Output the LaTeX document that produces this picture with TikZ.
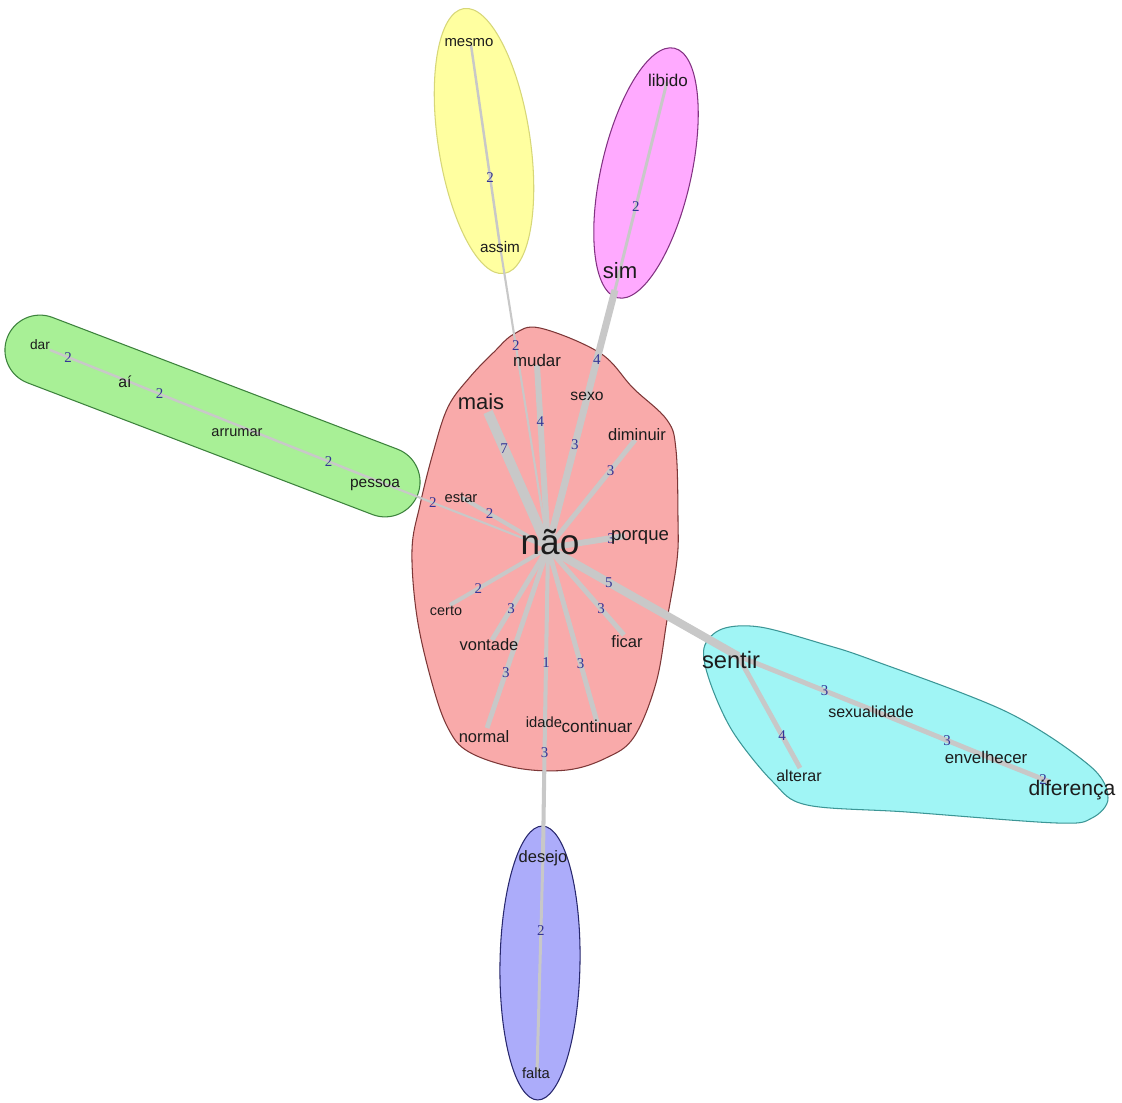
\documentclass[tikz,border=0pt]{standalone}
\usepackage{fontspec}
\setmainfont{Liberation Sans}
\newfontfamily\numfont{Liberation Serif}

% palette
\definecolor{wordcol}{RGB}{28,28,28}
\definecolor{numcol}{RGB}{52,52,150}
\definecolor{edgegray}{RGB}{200,200,200}
\definecolor{redfill}{RGB}{249,170,170}
\definecolor{redline}{RGB}{125,55,55}
\definecolor{yelfill}{RGB}{255,255,160}
\definecolor{yelline}{RGB}{215,215,120}
\definecolor{magfill}{RGB}{255,170,255}
\definecolor{magline}{RGB}{130,50,130}
\definecolor{grnfill}{RGB}{168,240,150}
\definecolor{grnline}{RGB}{60,130,60}
\definecolor{blufill}{RGB}{172,172,250}
\definecolor{bluline}{RGB}{40,40,110}
\definecolor{cyafill}{RGB}{160,245,245}
\definecolor{cyaline}{RGB}{60,150,150}

\tikzset{
  word/.style={font=\fontsize{#1}{#1}\selectfont, text=wordcol, inner sep=0pt, anchor=base},
  link/.style={draw=edgegray, line width=#1},
  wt/.style={font=\numfont\fontsize{8.5}{8.5}\selectfont, text=numcol, inner sep=0pt},
  hull/.style 2 args={fill=#1, draw=#2, line width=0.6pt},
}

\begin{document}
\begin{tikzpicture}[x=0.02cm, y=-0.02cm]
% canvas
\fill[white] (0,0) rectangle (1122,1102);
\useasboundingbox (0,0) rectangle (1122,1102);

% community hulls
\path[hull={redfill}{redline}] plot[smooth cycle, tension=0.6] coordinates {
  (540,328) (600,353) (633,388) (667,420) (676,450) (678,520) (677,560)
  (667,620) (656,683) (634,737) (606,758) (567,770) (517,768) (469,752)
  (448,728) (432,683) (417,617) (412,550) (420,505) (433,453) (448,407)
  (470,377) (494,352) (514,334)};
\path[hull={yelfill}{yelline}, rotate around={8.65:(484,141)}]
  (484,141) ellipse [x radius=0.92cm, y radius=2.68cm];
\path[hull={magfill}{magline}, rotate around={-12.8:(646,173)}]
  (646,173) ellipse [x radius=0.9cm, y radius=2.56cm];
\path[hull={blufill}{bluline}, rotate around={-1:(540,963)}]
  (540,963) ellipse [x radius=0.8cm, y radius=2.74cm];
\path[hull={grnfill}{grnline}, rotate around={-20.9:(212.5,416)}, rounded corners=0.7cm]
  (-7.2,381) rectangle (432.2,451);
\path[hull={cyafill}{cyaline}] plot[smooth cycle, tension=0.55] coordinates {
  (722,629) (760,627) (823,644) (872,660) (1007,712) (1090,766) (1108,798)
  (1092,818) (1057,823) (907,812) (807,805) (773,782) (733,732) (710,682)
  (704,648)};

% vertex positions
\coordinate (v-nao) at (548,548);
\coordinate (v-mais) at (488,412);
\coordinate (v-mudar) at (537,365);
\coordinate (v-sexo) at (587,398);
\coordinate (v-sim) at (615,290);
\coordinate (v-diminuir) at (635,440);
\coordinate (v-porque) at (625,536);
\coordinate (v-estar) at (461,497);
\coordinate (v-pessoa) at (380,482);
\coordinate (v-assim) at (500,246);
\coordinate (v-certo) at (450,605);
\coordinate (v-vontade) at (492,640);
\coordinate (v-normal) at (487,728);
\coordinate (v-idade) at (545,722);
\coordinate (v-continuar) at (597,722);
\coordinate (v-ficar) at (624,635);
\coordinate (v-sentir) at (738,656);
\coordinate (v-sexualidade) at (880,713);
\coordinate (v-envelhecer) at (1000,762);
\coordinate (v-diferenca) at (1050,782);
\coordinate (v-alterar) at (800,768);
\coordinate (v-desejo) at (543,855);
\coordinate (v-falta) at (537,1072);
\coordinate (v-mesmo) at (471,45);
\coordinate (v-libido) at (667,82);
\coordinate (v-dar) at (50,350);
\coordinate (v-ai) at (125,380);
\coordinate (v-arrumar) at (237,425);

% co-occurrence links: from / to / width / label position / weight
\def\links{nao/mais/5.6pt/0.73/7, nao/sim/4pt/0.73/4, nao/sentir/4.6pt/0.32/5,
  nao/mudar/3.4pt/0.69/4, nao/sexo/2.8pt/0.69/3, nao/diminuir/2.8pt/0.72/3,
  nao/porque/3.4pt/0.82/3, nao/estar/2.3pt/0.67/2, nao/pessoa/1.2pt/0.685/2,
  nao/assim/1.2pt/0.672/2, nao/certo/2.3pt/0.71/2, nao/vontade/2.8pt/0.66/3,
  nao/normal/2.8pt/0.69/3, nao/idade/2.3pt/0.66/1, nao/continuar/2.8pt/0.667/3,
  nao/ficar/2.8pt/0.70/3, sentir/sexualidade/2.8pt/0.61/3,
  sexualidade/envelhecer/2.8pt/0.56/3, envelhecer/diferenca/2.8pt/0.86/2,
  sentir/alterar/2.8pt/0.71/4, idade/desejo/2.3pt/0.23/3,
  desejo/falta/1.7pt/0.35/2, mesmo/assim/1.4pt/0.66/2, libido/sim/1.7pt/0.6/2,
  dar/ai/1.4pt/0.24/2, ai/arrumar/1.4pt/0.31/2, arrumar/pessoa/1.4pt/0.64/2}

\foreach \a/\b/\w/\p/\n in \links
  \draw[link=\w] (v-\a) -- (v-\b);
\foreach \a/\b/\w/\p/\n in \links
  \path (v-\a) -- node[wt, pos=\p] {\n} (v-\b);

% words
\node[word=20] (nao) at (550,554) {não};
\node[word=12.5] (mais) at (481,409) {mais};
\node[word=9.6] (mudar) at (537,366) {mudar};
\node[word=8.9] (sexo) at (587,400) {sexo};
\node[word=9.4] (diminuir) at (637,440) {diminuir};
\node[word=10.6] (porque) at (640,540) {porque};
\node[word=8.4] (estar) at (461,502) {estar};
\node[word=8.2] (certo) at (446,615) {certo};
\node[word=9.4] (vontade) at (489,650) {vontade};
\node[word=9.4] (ficar) at (627,647) {ficar};
\node[word=8.4] (idade) at (544,727) {idade};
\node[word=9.8] (continuar) at (597,732) {continuar};
\node[word=9.4] (normal) at (484,742) {normal};
\node[word=13.5] (sentir) at (731,668) {sentir};
\node[word=9.1] (sexualidade) at (871,717) {sexualidade};
\node[word=9.6] (envelhecer) at (986,763) {envelhecer};
\node[word=9.1] (alterar) at (799,781) {alterar};
\node[word=12] (diferenca) at (1072,795) {diferença};
\node[word=7.8] (dar) at (40,349) {dar};
\node[word=9] (ai) at (125,387) {aí};
\node[word=8.3] (arrumar) at (237,436) {arrumar};
\node[word=8.8] (pessoa) at (375,487) {pessoa};
\node[word=8.5] (mesmo) at (469,46) {mesmo};
\node[word=8.7] (assim) at (500,252) {assim};
\node[word=9.7] (libido) at (668,86) {libido};
\node[word=12.6] (sim) at (620,278) {sim};
\node[word=9.4] (desejo) at (543,862) {desejo};
\node[word=8.4] (falta) at (536,1078) {falta};
\end{tikzpicture}
\end{document}
